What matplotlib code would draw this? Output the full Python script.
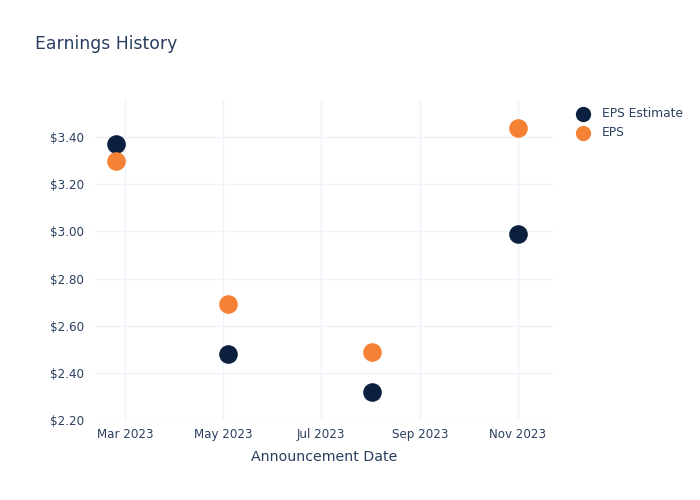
import matplotlib
matplotlib.use("Agg")
import matplotlib.pyplot as plt
import matplotlib.dates as mdates
from matplotlib.ticker import FuncFormatter
import pandas as pd

dates = ["2023-02-23", "2023-05-04", "2023-08-02", "2023-11-01"]
eps_estimate = [3.37, 2.48, 2.32, 2.99]
eps_actual = [3.30, 2.69, 2.49, 3.44]
series_names = ["EPS Estimate", "EPS"]
series_colors = ["#0b1f3f", "#f58135"]

x = pd.to_datetime(dates)
text_color = "#2a3f5f"
grid_color = "#eef2f9"

fig = plt.figure(figsize=(7, 5), dpi=100)
ax = fig.add_axes([95/700, 1-420/500, (553-95)/700, (420-100)/500])

for vals, name, col in zip([eps_estimate, eps_actual], series_names, series_colors):
    ax.scatter(x, vals, s=180, color=col, label=name, zorder=3, linewidths=0)

ax.set_ylim(2.2, 3.557)
ax.set_yticks([2.2, 2.4, 2.6, 2.8, 3.0, 3.2, 3.4])
ax.yaxis.set_major_formatter(FuncFormatter(lambda v, p: f"${v:.2f}"))
ax.set_xlim(pd.Timestamp("2023-02-10"), pd.Timestamp("2023-11-23"))
ax.set_xticks(pd.to_datetime(["2023-03-01", "2023-05-01", "2023-07-01", "2023-09-01", "2023-11-01"]))
ax.xaxis.set_major_formatter(mdates.DateFormatter("%b %Y"))

ax.grid(True, color=grid_color, linewidth=1, zorder=0)
ax.set_axisbelow(True)
for s in ax.spines.values():
    s.set_visible(False)
ax.tick_params(length=0, colors=text_color, labelsize=8.6, pad=6)
ax.tick_params(axis="y", pad=8)
ax.set_xlabel("Announcement Date", color=text_color, fontsize=10.2, labelpad=6)

fig.text(35/700, 1-44/500, "Earnings History", color=text_color, fontsize=12.4, va="center", ha="left")

leg = fig.legend(loc="upper left", bbox_to_anchor=(571/700, 1-107/500), frameon=False,
                 fontsize=8.8, labelcolor=text_color, handletextpad=0.55, labelspacing=0.5,
                 borderaxespad=0, borderpad=0, markerscale=0.82)

fig.savefig("out.png", dpi=100)
